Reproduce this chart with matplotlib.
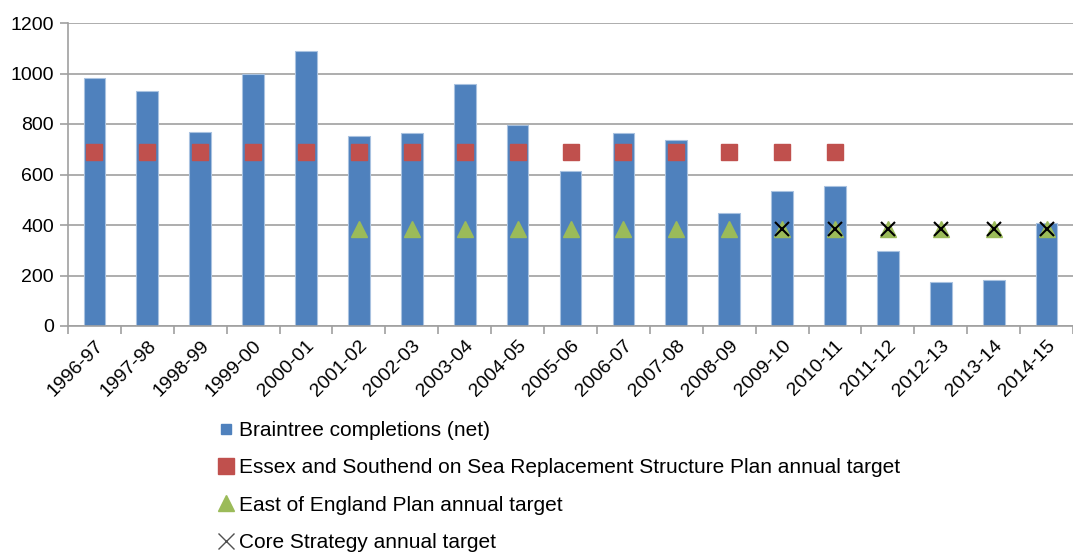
import numpy as np
import matplotlib.pyplot as plt
from matplotlib.lines import Line2D

plt.rcParams['font.family'] = ['Liberation Sans', 'DejaVu Sans']

years = ['1996-97', '1997-98', '1998-99', '1999-00', '2000-01', '2001-02', '2002-03',
         '2003-04', '2004-05', '2005-06', '2006-07', '2007-08', '2008-09', '2009-10',
         '2010-11', '2011-12', '2012-13', '2013-14', '2014-15']
completions = [981, 930, 767, 1000, 1090, 751, 763, 960, 797, 613, 763, 735, 447, 535,
               554, 298, 175, 181, 408]
nan = np.nan
structure_plan = [690] * 15 + [nan] * 4
east_england = [nan] * 5 + [385] * 14
core_strategy = [nan] * 13 + [385] * 6

labels = ['Braintree completions (net)',
          'Essex and Southend on Sea Replacement Structure Plan annual target',
          'East of England Plan annual target',
          'Core Strategy annual target']

fig = plt.figure(figsize=(10.73, 5.56), dpi=100)
ax = fig.add_axes([68 / 1073, 1 - 326 / 556, 1005 / 1073, 303 / 556])

x = np.arange(len(years))
ax.bar(x, completions, width=0.41, color='#4F81BD', edgecolor='#A9C2E0', linewidth=0.8,
       zorder=2)
ax.plot(x, structure_plan, 's', color='#C0504D', markersize=12, linestyle='none', zorder=3)
ax.plot(x, east_england, '^', color='#9BBB59', markersize=12, linestyle='none', zorder=4)
ax.plot(x, core_strategy, 'x', color='black', markersize=10, markeredgewidth=1.5,
        linestyle='none', zorder=5)

ax.set_xlim(-0.5, len(years) - 0.5)
ax.set_ylim(0, 1200)
ax.set_yticks(range(0, 1201, 200))
ax.yaxis.grid(True, color='#A0A0A0', linewidth=1.2, zorder=0)
ax.set_axisbelow(True)

ax.set_xticks(x)
ax.set_xticklabels(years, rotation=45, ha='right', rotation_mode='anchor', fontsize=14)
ax.set_xticks(np.arange(-0.5, len(years), 1), minor=True)
ax.tick_params(axis='x', which='major', length=0, pad=8)
ax.tick_params(axis='x', which='minor', length=6, color='#A0A0A0', width=1.2)
ax.tick_params(axis='y', labelsize=14, length=6, color='#A0A0A0', width=1.2, pad=4)

for s in ['top', 'right']:
    ax.spines[s].set_visible(False)
for s in ['left', 'bottom']:
    ax.spines[s].set_color('#A0A0A0')
    ax.spines[s].set_linewidth(1.2)

# legend proxies, sized like the original
handles = [
    Line2D([], [], marker='s', color='#4F81BD', markersize=7, linestyle='none'),
    Line2D([], [], marker='s', color='#C0504D', markersize=11, linestyle='none'),
    Line2D([], [], marker='^', color='#9BBB59', markersize=11, linestyle='none'),
    Line2D([], [], marker='x', color='#505050', markersize=11, markeredgewidth=1,
           linestyle='none'),
]
fig.legend(handles, labels, loc='upper left', bbox_to_anchor=(218 / 1073, 1 - 421 / 556),
           frameon=False, fontsize=15, labelspacing=0.88, handlelength=0.8,
           handletextpad=0.2, borderaxespad=0, borderpad=0)

fig.savefig('out.png', dpi=100)
